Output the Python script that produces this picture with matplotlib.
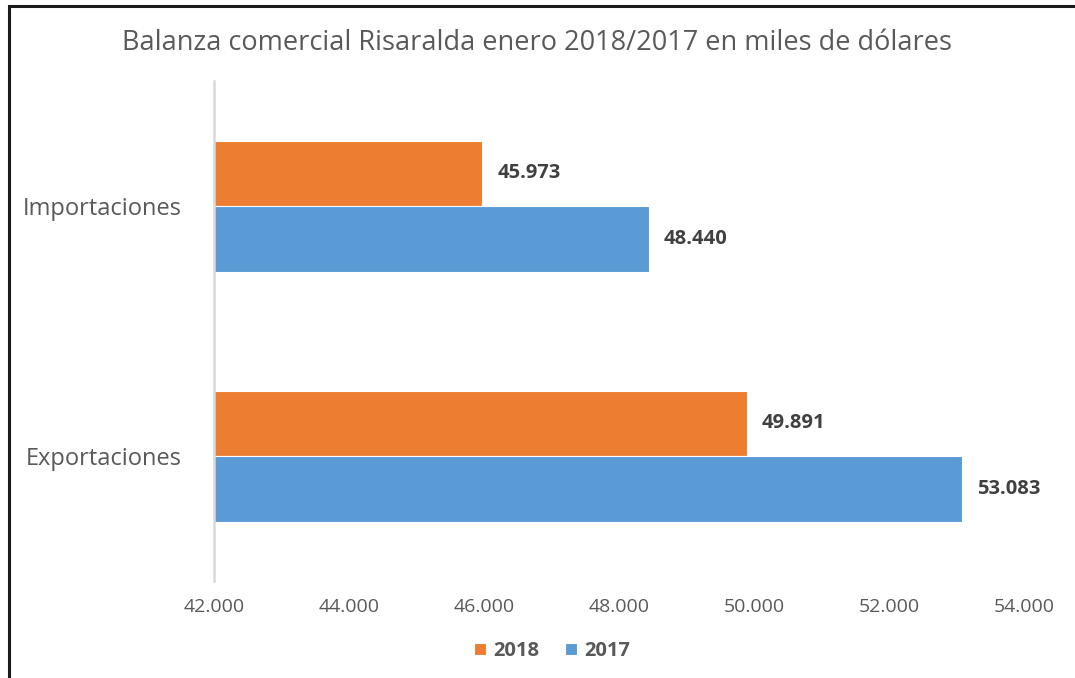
import numpy as np
import matplotlib.pyplot as plt
from matplotlib.patches import Rectangle
from matplotlib.ticker import FuncFormatter

# data
categories = ['Exportaciones', 'Importaciones']
values_2018 = [49891, 45973]
values_2017 = [53083, 48440]
series_labels = ['2018', '2017']
title = 'Balanza comercial Risaralda enero 2018/2017 en miles de dólares'

orange = '#ED7D31'
blue = '#5B9BD5'
gray_txt = '#595959'

plt.rcParams['font.family'] = ['Open Sans', 'DejaVu Sans']

fig = plt.figure(figsize=(10.75, 6.78), dpi=100)
ax = fig.add_axes([0.199, 0.143, 0.7536, 0.7375])

# outer frame (runs off the right and bottom edges)
fig.patches.append(Rectangle((9 / 1075, -0.05), 1.2, 1 - 6 / 678 + 0.05,
                             transform=fig.transFigure, fill=False,
                             edgecolor='#1a1a1a', linewidth=2.2))

y = np.arange(len(categories))
h = 0.262
b18 = ax.barh(y + h / 2, values_2018, height=h, color=orange, edgecolor='white',
              linewidth=0.8, label=series_labels[0])
b17 = ax.barh(y - h / 2, values_2017, height=h, color=blue, edgecolor='white',
              linewidth=0.8, label=series_labels[1])

def fmt(v):
    return f'{v:,.0f}'.replace(',', '.')

for bars, vals in [(b18, values_2018), (b17, values_2017)]:
    for rect, v in zip(bars, vals):
        ax.annotate(fmt(v), (v, rect.get_y() + rect.get_height() / 2),
                    xytext=(11, 0), textcoords='offset points', va='center',
                    ha='left', fontsize=14.5, fontweight='bold', color='#404040')

ax.set_xlim(42000, 54000)
ax.set_xticks(np.arange(42000, 54001, 2000))
ax.xaxis.set_major_formatter(FuncFormatter(lambda v, p: fmt(v)))
ax.set_ylim(-0.5, 1.5)
ax.set_yticks(y)
ax.set_yticklabels(categories)

for s in ['top', 'right', 'bottom']:
    ax.spines[s].set_visible(False)
ax.spines['left'].set_color('#D9D9D9')
ax.spines['left'].set_linewidth(1.8)
ax.tick_params(axis='x', length=0, labelsize=14, colors=gray_txt, pad=12)
ax.tick_params(axis='y', length=0, labelsize=17, colors=gray_txt, pad=23)

fig.text(0.5, 1 - 43 / 678, title, ha='center', va='center', fontsize=19.5,
         color=gray_txt)

leg = fig.legend(handles=[b18, b17], labels=series_labels, loc='center',
                 bbox_to_anchor=(552 / 1075, 1 - 651 / 678), ncol=2, frameon=False,
                 handlelength=0.6, handleheight=0.6, handletextpad=0.35,
                 columnspacing=1.3, fontsize=14.5)
for t in leg.get_texts():
    t.set_fontweight('bold')
    t.set_color(gray_txt)

fig.savefig('out.png', dpi=100)
